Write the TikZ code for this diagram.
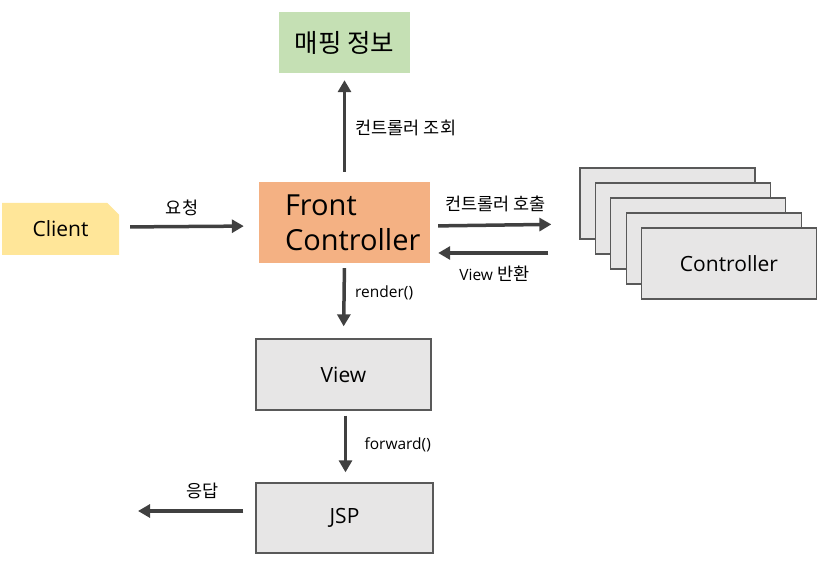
\documentclass[tikz,border=0pt]{standalone}
\usepackage{fontspec}
\setmainfont{Open Sans}
\newfontfamily\kr{Noto Sans CJK KR}
\usepackage{tikz}
\usetikzlibrary{arrows.meta}
\usetikzlibrary{positioning}
\usetikzlibrary{shapes.misc}
\definecolor{mapgreen}{HTML}{C5E0B4}
\definecolor{fcorange}{HTML}{F4B183}
\definecolor{clientyellow}{HTML}{FFE699}
\definecolor{boxgray}{HTML}{E7E6E6}
\definecolor{boxline}{HTML}{595959}
\definecolor{arrowgray}{HTML}{404040}
\tikzstyle{simple} = [rectangle, inner sep=0pt, align=center, font=\fontsize{21}{25}\selectfont]
\tikzstyle{graybox} = [simple, draw=boxline, line width=1.3pt, fill=boxgray, minimum width=175pt, minimum height=71pt]
\tikzstyle{arrow} = [line width=3.5pt, draw=arrowgray, -{Triangle[length=12pt,width=13pt]}]
\tikzstyle{lbl} = [font=\fontsize{15.5}{18}\selectfont, text=black]
\newcommand{\hangul}[1]{{\kr\fontsize{17.5}{20}\selectfont #1}}

\begin{document}
\begin{tikzpicture}[x=1pt,y=-1pt]
    \useasboundingbox (0,0) rectangle (825,561);

    \node(map)[simple, fill=mapgreen, minimum width=131pt, minimum height=61pt, font=\kr\fontsize{25.5}{30}\selectfont] at (344.5,42.5) {매핑 정보};
    \node(fc)[simple, fill=fcorange, minimum width=171pt, minimum height=81pt, text width=119pt, align=left, font=\fontsize{29}{35}\selectfont] at (344.5,222.5) {Front\\Controller};
    \node(client)[simple, chamfered rectangle, chamfered rectangle corners=north east, chamfered rectangle xsep=8pt, fill=clientyellow, minimum width=117pt, minimum height=52pt] at (60.5,229) {Client};
    \node(view)[graybox] at (343.5,374.5) {View};
    \node(jsp)[graybox, minimum width=177pt, minimum height=70pt] at (344.5,518) {JSP};

    % controller stack
    \foreach \i in {0,...,3}
        \node(ctrl\i)[graybox] at ({667.5+15.4*\i},{203.5+15*\i}) {};
    \node(ctrl)[graybox] at (729,263.5) {Controller};

    \coordinate(resp) at (138,511);

    \draw[arrow, shorten <=11pt, shorten >=15pt]([yshift=2pt]client.east)--node[lbl, pos=0.45, above=6pt]{\hangul{요청}} ([yshift=-3.5pt]fc.west);
    \draw[arrow, shorten <=10pt, shorten >=7pt](fc.north)--node[lbl, right=6pt]{\hangul{컨트롤러 조회}} (map.north |- map.south);
    \draw[arrow, shorten <=8pt, shorten >=28pt]([yshift=-3.5pt]fc.east)--node[lbl, pos=0.44, above=8pt]{\hangul{컨트롤러 호출}} ([yshift=-20.5pt]ctrl0.west);
    \draw[arrow, shorten <=31pt, shorten >=8pt]([yshift=-49.5pt]ctrl0.west)--node[lbl, pos=0.57, below=8pt]{View \hangul{반환}} ([yshift=-30.5pt]fc.east);
    \draw[arrow, shorten <=5pt, shorten >=12pt](fc.south)--node[lbl, right=6pt, pos=0.4]{render()} (view.north);
    \draw[arrow, shorten <=5pt, shorten >=10pt]([xshift=2pt]view.south)--node[lbl, right=14pt, pos=0.47]{forward()} ([xshift=1pt]jsp.north);
    \draw[arrow, shorten <=12pt]([yshift=7pt]jsp.west)--node[lbl, pos=0.45, above=7pt]{\hangul{응답}} (resp);
\end{tikzpicture}
\end{document}
